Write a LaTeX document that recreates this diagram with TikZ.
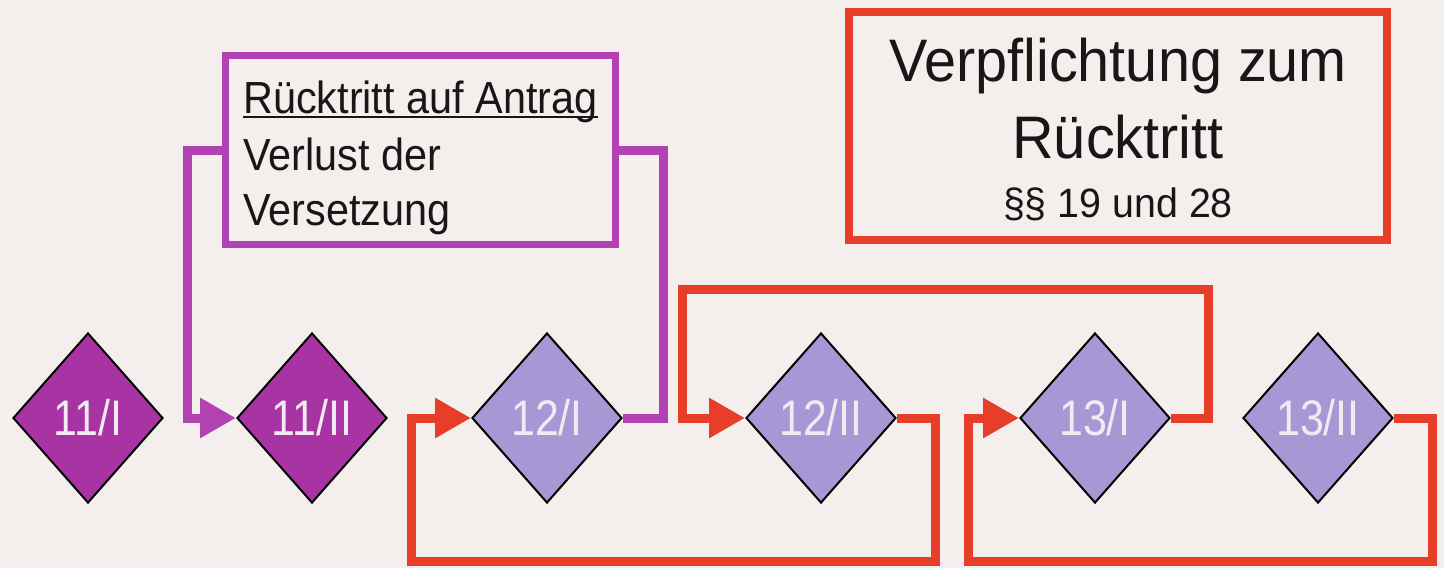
\documentclass[tikz,border=0pt]{standalone}
\usepackage{fontspec}
\setmainfont{Liberation Sans}
\newfontfamily\dfont[FakeStretch=0.86]{Liberation Sans}
\newfontfamily\pfont[FakeStretch=0.92]{Liberation Sans}
\newfontfamily\rfont[FakeStretch=0.96]{Liberation Sans}
\usetikzlibrary{shapes.geometric,arrows.meta,calc}
\definecolor{paper}{RGB}{244,239,237}
\definecolor{magfill}{RGB}{168,52,164}
\definecolor{lavfill}{RGB}{166,152,212}
\definecolor{dtext}{RGB}{240,234,242}
\definecolor{pline}{RGB}{178,66,178}
\definecolor{rline}{RGB}{230,62,40}
\definecolor{ink}{RGB}{25,22,24}
\tikzset{
  dia/.style={diamond, draw=black, line width=2pt, minimum width=150pt,
    minimum height=170pt, inner sep=0pt, text=dtext,
    font=\dfont\fontsize{50}{50}\selectfont},
  diadark/.style={dia, fill=magfill},
  dialight/.style={dia, fill=lavfill},
  pbox/.style={rectangle, draw=pline, line width=7pt, minimum width=390pt,
    minimum height=189pt, inner sep=0pt},
  rbox/.style={rectangle, draw=rline, line width=8pt, minimum width=538pt,
    minimum height=228pt, inner sep=0pt},
  ptext/.style={inner sep=0pt, text=ink, font=\pfont\fontsize{45}{54}\selectfont},
  rtextbig/.style={inner sep=0pt, text=ink, font=\rfont\fontsize{60}{70}\selectfont},
  rtextsmall/.style={inner sep=0pt, text=ink, font=\rfont\fontsize{41}{48}\selectfont},
  pconn/.style={draw=pline, line width=9pt, line join=miter},
  rconn/.style={draw=rline, line width=9pt, line join=miter},
  tip/.style={-{Triangle[length=36pt,width=38pt]}}
}
\begin{document}
\begin{tikzpicture}[x=1pt,y=-1pt]
  \useasboundingbox (0,0) rectangle (1444,568);
  \fill[paper] (0,0) rectangle (1444,568);

  % boxes
  \node[pbox] (pb) at (420.5,150) {};
  \node[rbox] (rb) at (1118,126) {};

  % texts of the purple box
  \node[ptext, anchor=base west] (p1) at (243,113) {Rücktritt auf Antrag};
  \node[ptext, anchor=base west] (p2) at (243,170) {Verlust der};
  \node[ptext, anchor=base west] (p3) at (243,225) {Versetzung};
  \draw[ink, line width=2.2pt] ([yshift=-4pt]p1.base west) -- ([yshift=-4pt]p1.base east);

  % texts of the red box
  \node[rtextbig, anchor=base] (r1) at (1118,81) {Verpflichtung zum};
  \node[rtextbig, anchor=base] (r2) at (1118,158) {Rücktritt};
  \node[rtextsmall, anchor=base] (r3) at (1118,217) {§§ 19 und 28};

  % diamonds
  \node[diadark]  (d1) at (88,418)   {11/I};
  \node[diadark]  (d2) at (312,418)  {11/II};
  \node[dialight] (d3) at (547,418)  {12/I};
  \node[dialight] (d4) at (821,418)  {12/II};
  \node[dialight] (d5) at (1095,418) {13/I};
  \node[dialight] (d6) at (1318,418) {13/II};

  % purple connectors
  \draw[pconn, tip] (pb.west) -| ($(d2.west)+(-49,0)$) -- (d2.west);
  \draw[pconn] (d3.east) -| ($(pb.east)+(44.5,0)$) -- (pb.east);

  % red connectors
  \draw[rconn, tip] (d4.east) -- ++(38,0) -- ++(0,143) -| ($(d3.west)+(-60,0)$) -- (d3.west);
  \draw[rconn, tip] (d5.east) -- ++(37,0) -- ++(0,-129) -| ($(d4.west)+(-63,0)$) -- (d4.west);
  \draw[rconn, tip] (d6.east) -- ++(38,0) -- ++(0,143) -| ($(d5.west)+(-51,0)$) -- (d5.west);
\end{tikzpicture}
\end{document}
